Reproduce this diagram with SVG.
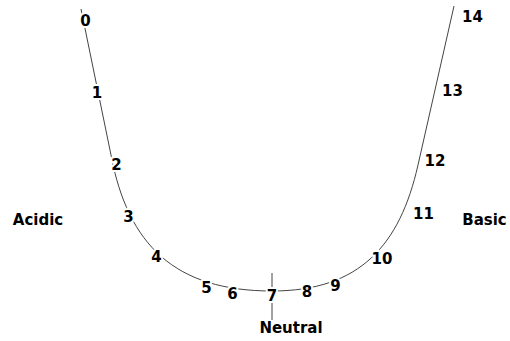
<svg xmlns="http://www.w3.org/2000/svg" width="510" height="341" viewBox="0 0 510 341">
<style>
.ln{fill:none;stroke:#444;stroke-width:1}
text{font-family:"DejaVu Sans",sans-serif;font-weight:bold;font-size:15px;fill:#000;text-anchor:middle}
.n{stroke:#fff;stroke-width:4;paint-order:stroke;stroke-linejoin:round}
</style>
<rect width="510" height="341" fill="#fff"/>
<g id="connectors">
<path class="ln" d="M81,9 L111,155 C128,245 175,291 272,291 C360,291 399.9,245 418,165 L454,6"/>
<line class="ln" x1="272" y1="273" x2="272" y2="320"/>
</g>
<g id="ph0"><text class="n" x="85.5" y="26">0</text></g>
<g id="ph1"><text class="n" x="97" y="98">1</text></g>
<g id="ph2"><text class="n" x="116.5" y="170">2</text></g>
<g id="ph3"><text class="n" x="128.5" y="222">3</text></g>
<g id="ph4"><text class="n" x="156.5" y="262">4</text></g>
<g id="ph5"><text class="n" x="206.5" y="293">5</text></g>
<g id="ph6"><text class="n" x="232.5" y="299">6</text></g>
<g id="ph7"><text class="n" x="272" y="301">7</text></g>
<g id="ph8"><text class="n" x="307" y="297">8</text></g>
<g id="ph9"><text class="n" x="335.5" y="291">9</text></g>
<g id="ph10"><text class="n" x="382" y="264">10</text></g>
<g id="ph11"><text class="n" x="423.5" y="219">11</text></g>
<g id="ph12"><text class="n" x="435" y="166">12</text></g>
<g id="ph13"><text class="n" x="452.5" y="96">13</text></g>
<g id="ph14"><text class="n" x="472.5" y="22">14</text></g>
<g id="acidic"><text x="38" y="225">Acidic</text></g>
<g id="basic"><text x="484.5" y="225">Basic</text></g>
<g id="neutral"><text x="291" y="333">Neutral</text></g>
</svg>
